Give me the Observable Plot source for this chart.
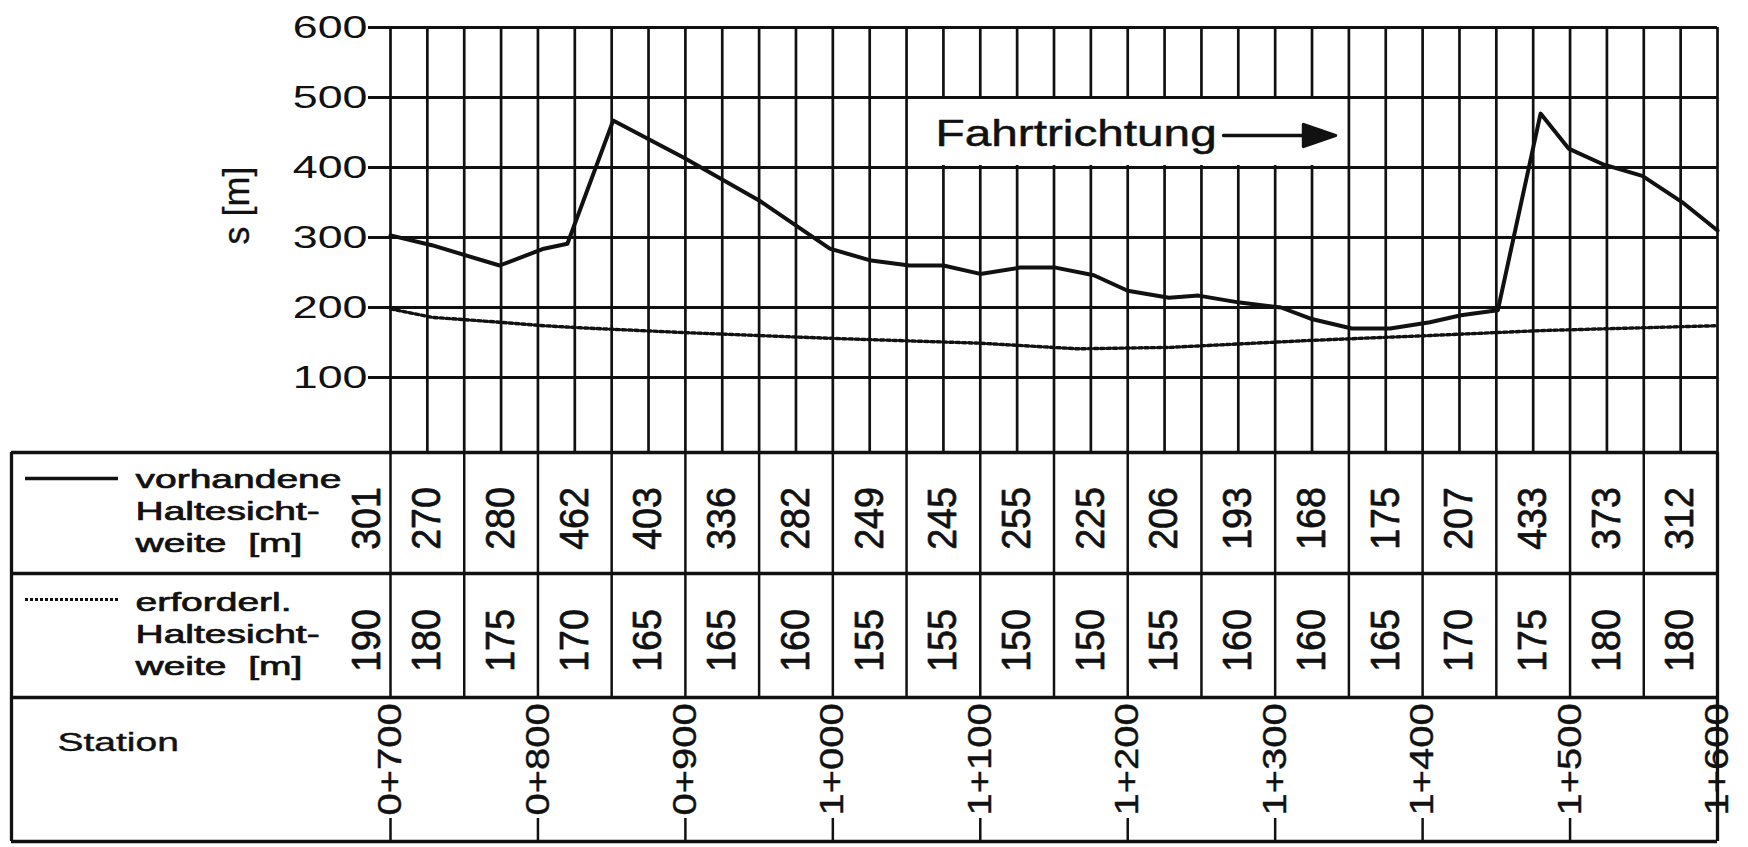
<!DOCTYPE html>
<html><head><meta charset="utf-8">
<script src="https://cdn.jsdelivr.net/npm/d3@7"></script>
<script src="https://cdn.jsdelivr.net/npm/@observablehq/plot@0.6"></script>
<style>body{margin:0;background:#fff;} svg{display:block;}</style>
</head><body>
<script>
// ---------- data ----------
const stations = [700,750,800,850,900,950,1000,1050,1100,1150,1200,1250,1300,1350,1400,1450,1500,1550,1600];
const vorhandene = [301,270,280,462,403,336,282,249,245,255,225,206,193,168,175,207,433,373,312];
const erforderlich = [190,180,175,170,165,165,160,155,155,150,150,155,160,160,165,170,175,180,180];
const stationTicks = [700,800,900,1000,1100,1200,1300,1400,1500,1600];
const stationLabels = ["0+700","0+800","0+900","1+000","1+100","1+200","1+300","1+400","1+500","1+600"];
const yTicks = [100,200,300,400,500,600];
// curves as they are drawn in the diagram
const kurveVorhStation = [700,728,774,804,820,851,899,950,998,1026,1052,1075,1100,1127,1151,1177,1200,1228,1248,1276,1304,1324,1352,1378,1405,1426,1451,1480,1499,1523,1549,1577,1600];
const kurveVorhWert    = [303,289,260,284,291,467,414,353,284,267,260,260,248,257,257,246,224,214,217,207,200,184,170,170,179,189,196,477,427,404,388,349,310];
const kurveErfStation  = [700,728,774,804,829,901,998,1100,1166,1228,1324,1405,1480,1548,1600];
const kurveErfWert     = [198,186,179,174,171,164,156,149,141,143,153,160,167,171,174];
const legendVorh = ["vorhandene","Haltesicht-","weite\u00a0\u00a0[m]"];
const legendErf  = ["erforderl.","Haltesicht-","weite\u00a0\u00a0[m]"];
const yLabel = "s [m]";
const stationTitle = "Station";
const direction = "Fahrtrichtung";

// ---------- layout ----------
const W = 1748, H = 847;
const M = {left: 390, right: 31, top: 27, bottom: 400};
const INK = "#111";
const sx = px => 700 + (px - M.left) * 900 / (W - M.left - M.right);   // pixel -> station
const py = px => (H - M.bottom - px) * 600 / (H - M.bottom - M.top);   // pixel -> metres
const L = {tableLeft: 11, tableTop: 452, row1: 573, row2: 697, tableBottom: 841,
  val1: 518, val2: 640, firstCell: 367, stationBase: 815, tickTop: 818,
  legX: 135, leg1: 487, leg2: 610, legStep: 32, sampleX1: 25, sampleX2: 118, sample1: 478, sample2: 599,
  stationX: 57, stationY: 750, yLabX: 237, yLabY: 205, dirX: 935, dirY: 145, arrowX: 1223, arrowY: 135};

const vorhLine = kurveVorhStation.map((s, i) => ({s, v: kurveVorhWert[i]}));
const erfLine = kurveErfStation.map((s, i) => ({s, v: kurveErfWert[i]}));
const rows = stations.map((s, i) => ({s, vorh: vorhandene[i], erf: erforderlich[i]}));
const cellX = d => d.s === 700 ? sx(L.firstCell) : d.s - 25;
const tag = name => () => name;

const arrowShape = {
  draw(context, l) {
    const head = 32, hw = 11;
    context.moveTo(0, 0);
    context.lineTo(0, -l + head);
    context.moveTo(-hw, -l + head);
    context.lineTo(0, -l);
    context.lineTo(hw, -l + head);
    context.closePath();
  }
};

const txt = {fill: INK, stroke: INK, strokeWidth: 0.7};

const svg = Plot.plot({
  width: W, height: H,
  marginLeft: M.left, marginRight: M.right, marginTop: M.top, marginBottom: M.bottom,
  style: {fontFamily: "'Liberation Sans', Arial, Helvetica, sans-serif", background: "#fff", color: INK},
  x: {domain: [700, 1600], axis: null},
  y: {domain: [0, 600], axis: null},
  marks: [
    // vertical grid
    Plot.ruleX(d3.range(700, 1601, 25), {y1: py(L.tableTop), y2: 600, stroke: INK, strokeWidth: 2.7}),
    // white box behind the direction note
    Plot.rect([0], {x1: 1050, x2: 1350, y1: 400, y2: 500, fill: "white", inset: 2}),
    // horizontal grid
    Plot.ruleY(yTicks, {x1: 700, x2: 1600, stroke: INK, strokeWidth: 3.1}),
    // curves
    Plot.line(erfLine, {x: "s", y: "v", stroke: INK, strokeWidth: 3.4, strokeDasharray: "3.5,2.8"}),
    Plot.line(vorhLine, {x: "s", y: "v", stroke: INK, strokeWidth: 4}),
    // direction note
    Plot.text([direction], {x: sx(L.dirX), y: py(L.dirY), textAnchor: "start", lineAnchor: "bottom", fontSize: 37, ...txt, strokeWidth: 0.5, ariaLabel: tag("t-dir")}),
    Plot.vector([0], {x: sx(L.arrowX), y: py(L.arrowY), length: 112, rotate: 90, anchor: "start", shape: arrowShape, stroke: INK, fill: INK, strokeWidth: 3.4}),
    // table frame
    Plot.ruleY([py(L.tableTop), py(L.row1), py(L.row2), py(L.tableBottom)], {x1: sx(L.tableLeft), x2: 1600, stroke: INK, strokeWidth: 3.3}),
    Plot.ruleX([sx(L.tableLeft), 1600], {y1: py(L.tableBottom), y2: py(L.tableTop), stroke: INK, strokeWidth: 3.3}),
    Plot.ruleX(stations.slice(0, -1), {y1: py(L.row2), y2: py(L.tableTop), stroke: INK, strokeWidth: 2.5}),
    Plot.ruleX(stationTicks, {y1: py(L.tableBottom), y2: py(L.tickTop), stroke: INK, strokeWidth: 2.5}),
    // legend samples
    Plot.ruleY([py(L.sample1)], {x1: sx(L.sampleX1), x2: sx(L.sampleX2), stroke: INK, strokeWidth: 3.6}),
    Plot.ruleY([py(L.sample2)], {x1: sx(L.sampleX1), x2: sx(L.sampleX2), stroke: INK, strokeWidth: 3, strokeDasharray: "3,2"}),
    Plot.text(legendVorh, {x: sx(L.legX), y: (d, i) => py(L.leg1 + i * L.legStep), textAnchor: "start", lineAnchor: "bottom", fontSize: 26, ...txt, ariaLabel: tag("t-leg")}),
    Plot.text(legendErf, {x: sx(L.legX), y: (d, i) => py(L.leg2 + i * L.legStep), textAnchor: "start", lineAnchor: "bottom", fontSize: 26, ...txt, ariaLabel: tag("t-leg")}),
    Plot.text([stationTitle], {x: sx(L.stationX), y: py(L.stationY), textAnchor: "start", lineAnchor: "bottom", fontSize: 26, ...txt, strokeWidth: 0.4, ariaLabel: tag("t-leg")}),
    // table values
    Plot.text(rows, {x: cellX, y: py(L.val1), text: d => String(d.vorh), rotate: -90, fontSize: 40, ...txt, ariaLabel: tag("t-val")}),
    Plot.text(rows, {x: cellX, y: py(L.val2), text: d => String(d.erf), rotate: -90, fontSize: 40, ...txt, ariaLabel: tag("t-val")}),
    Plot.text(stationTicks, {x: d => d, y: py(L.stationBase), text: (d, i) => stationLabels[i], rotate: -90, textAnchor: "start", fontSize: 33, ...txt, strokeWidth: 0.4, ariaLabel: tag("t-sta")}),
    // y axis
    Plot.text([yLabel], {x: sx(L.yLabX), y: py(L.yLabY), rotate: -90, fontSize: 36, ...txt, strokeWidth: 0.3}),
    Plot.axisY(yTicks, {anchor: "left", tickSize: 22, tickPadding: 1, fontSize: 32, strokeWidth: 3, stroke: INK, fill: INK, label: null})
  ]
});
document.body.append(svg);

// the original lettering is an extended grotesque: widen / narrow glyphs to match
const stretch = {"t-dir": 1.29, "t-leg": 1.5, "t-val": 0.94, "t-sta": 1.21};
const fit = (t, k) => {
  const len = t.getComputedTextLength();
  if (len > 0) {
    t.setAttribute("textLength", (len * k).toFixed(1));
    t.setAttribute("lengthAdjust", "spacingAndGlyphs");
  }
};
for (const [label, k] of Object.entries(stretch)) {
  svg.querySelectorAll(`text[aria-label="${label}"]`).forEach(t => { fit(t, k); t.removeAttribute("aria-label"); });
}
svg.querySelectorAll(`g[aria-label="y-axis tick label"] text`).forEach(t => fit(t, 1.40));
</script>
</body></html>
